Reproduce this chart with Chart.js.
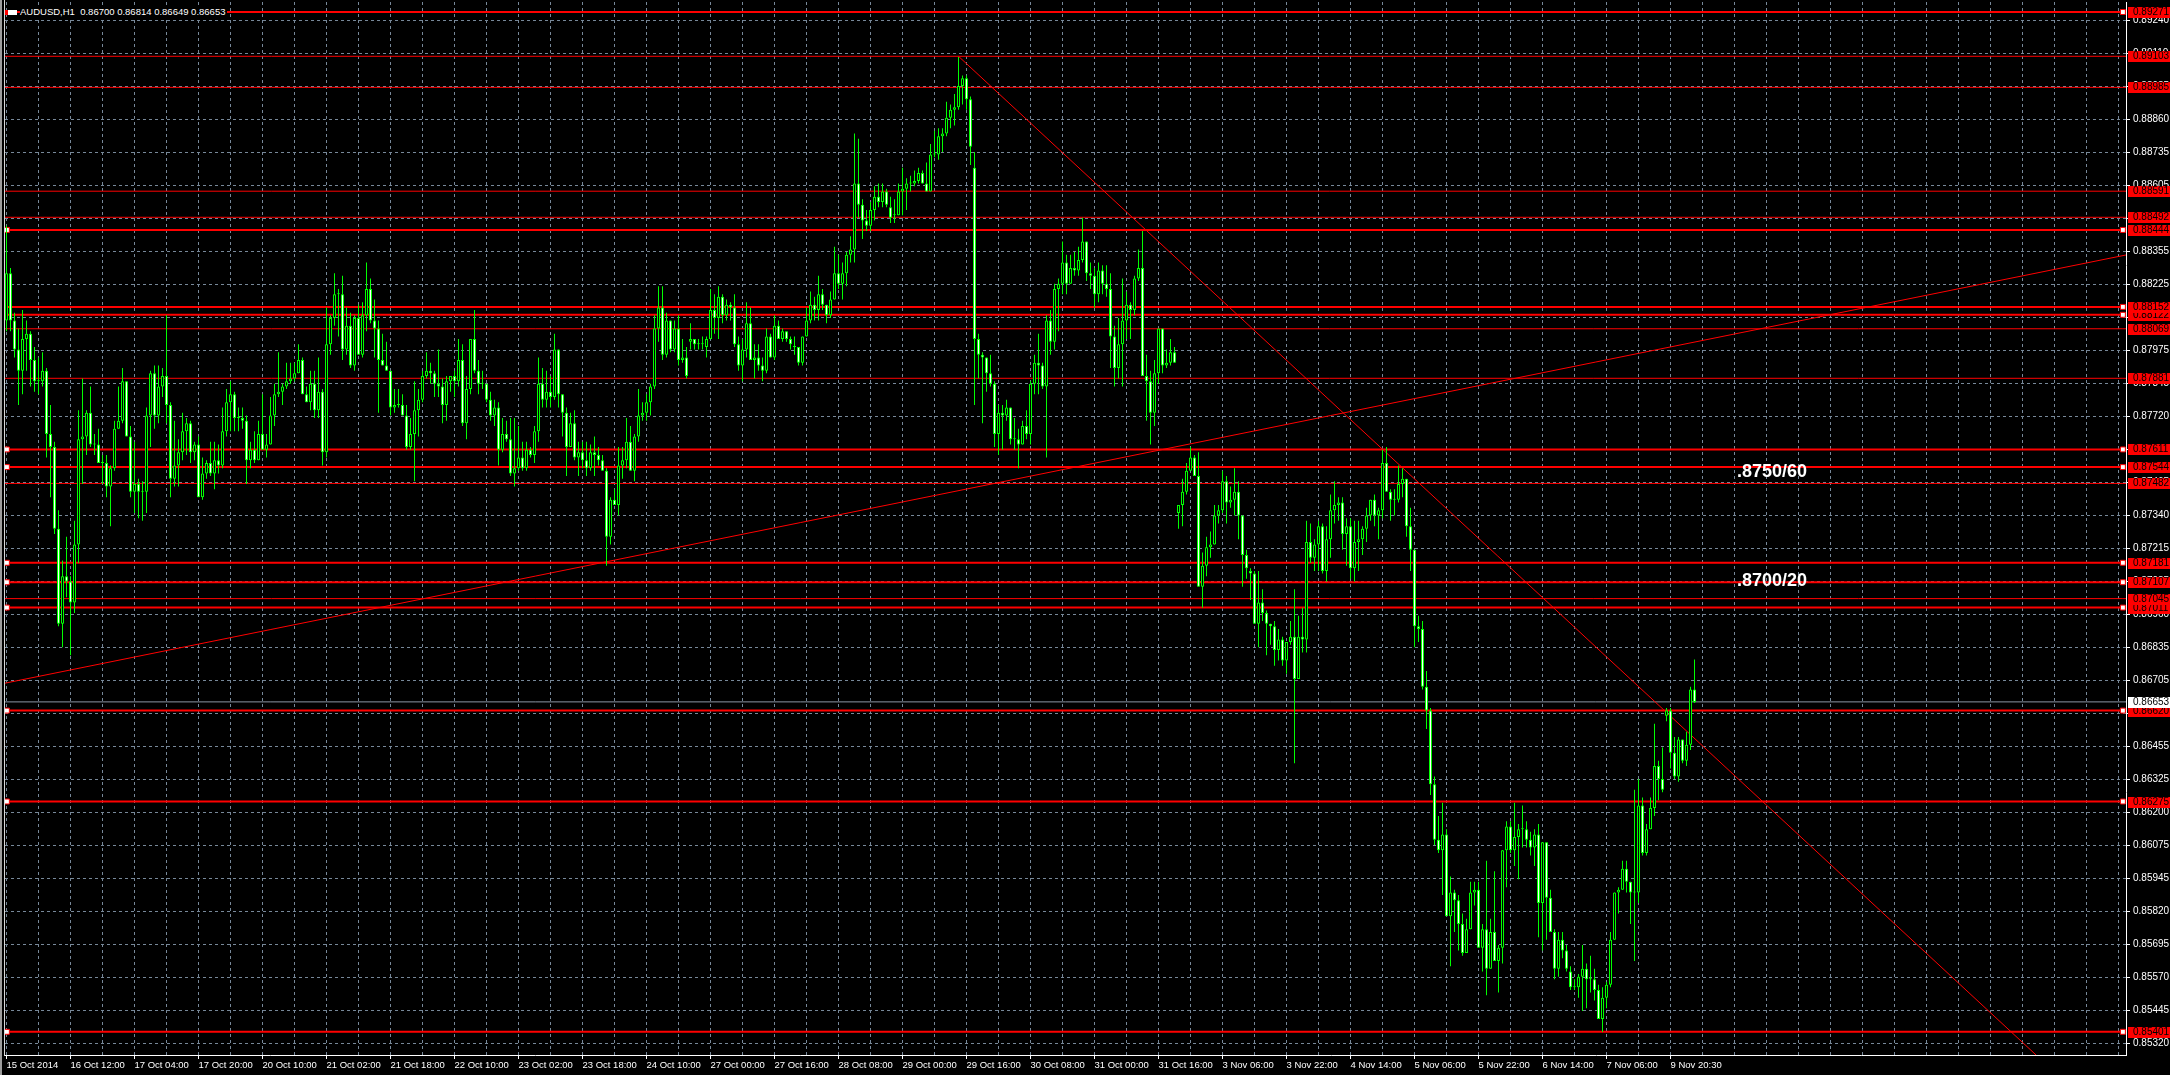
<!DOCTYPE html>
<html>
<head>
<meta charset="utf-8">
<title>AUDUSD,H1</title>
<script src="https://cdn.jsdelivr.net/npm/chart.js@4.4.1/dist/chart.umd.min.js"></script>
<style>
  html, body { margin: 0; padding: 0; background: #000; }
  #wrap { position: relative; width: 2170px; height: 1075px; overflow: hidden; background: #000; }
  #chart { position: absolute; left: 0; top: 0; display: block; }
  .frame-l { position: absolute; left: 0; top: 0; width: 2px; height: 1075px; background: #9c9c9c; }
  .frame-r { position: absolute; left: 4px; top: 0; width: 1px; height: 1056px; background: #d8d8d8; }
  #header { position: absolute; left: 5px; top: 6px; height: 12px; display: flex; align-items: center;
            font: 9.5px "Liberation Sans", Arial, sans-serif; color: #fff; }
  #header .icon { width: 9px; height: 5px; background: #fff; border-left: 3px solid #ff0000; margin-right: 3px; }
  #header .txt { background: #000; padding-right: 2px; white-space: pre; line-height: 12px; }
</style>
</head>
<body>
<div id="wrap">
  <canvas id="chart" width="2170" height="1075"></canvas>
  <div class="frame-l"></div>
  <div class="frame-r"></div>
  <div id="header"><span class="icon"></span><span class="txt" id="headerText"></span></div>
</div>
<script>
// --- DATOS: velas H1 en pips (x 0.0001) ---
const symbolName = 'AUDUSD,H1';

const opens = [
  8810,8828,8810,8799,8791,8803,8805,8795,8787,8787,
  8791,8767,8762,8731,8695,8713,8711,8703,8725,8765,
  8766,8775,8763,8763,8756,8756,8747,8754,8769,8772,
  8787,8766,8745,8748,8745,8745,8774,8790,8774,8785,
  8789,8778,8750,8755,8760,8768,8771,8760,8763,8743,
  8752,8756,8752,8757,8755,8768,8779,8782,8773,8773,
  8772,8757,8761,8757,8767,8761,8763,8774,8782,8783,
  8785,8787,8788,8790,8795,8782,8779,8786,8776,8783,
  8760,8801,8811,8820,8820,8799,8808,8793,8811,8797,
  8812,8822,8810,8807,8795,8793,8791,8777,8778,8778,
  8774,8762,8767,8776,8780,8789,8791,8790,8786,8785,
  8778,8787,8789,8787,8795,8771,8784,8803,8791,8786,
  8786,8780,8774,8777,8761,8767,8765,8752,8754,8758,
  8754,8761,8759,8768,8786,8780,8783,8781,8799,8782,
  8775,8762,8771,8758,8760,8757,8754,8760,8759,8757,
  8753,8728,8742,8740,8755,8757,8764,8753,8766,8774,
  8775,8779,8785,8807,8815,8797,8810,8799,8807,8795,
  8796,8802,8803,8801,8801,8800,8803,8814,8811,8819,
  8812,8816,8815,8801,8793,8799,8809,8795,8796,8793,
  8791,8804,8796,8808,8803,8806,8803,8800,8800,8794,
  8804,8810,8816,8814,8820,8816,8812,8818,8828,8824,
  8828,8835,8837,8862,8854,8848,8846,8852,8857,8855,
  8859,8853,8850,8850,8859,8860,8862,8862,8863,8866,
  8862,8859,8873,8873,8880,8881,8887,8890,8891,8899,
  8902,8894,8868,8803,8797,8796,8790,8786,8767,8775,
  8774,8777,8765,8765,8763,8770,8767,8786,8794,8793,
  8785,8810,8802,8822,8824,8832,8824,8830,8829,8833,
  8840,8828,8827,8820,8829,8824,8822,8804,8792,8801,
  8810,8816,8814,8826,8830,8789,8787,8775,8790,8807,
  8793,8794,8798,8737,8740,8745,8753,8758,8751,8709,
  8717,8724,8725,8736,8738,8749,8741,8742,8745,8736,
  8721,8715,8714,8695,8703,8699,8695,8694,8685,8689,
  8681,8688,8690,8674,8690,8689,8726,8720,8725,8732,
  8715,8727,8738,8740,8741,8729,8732,8716,8726,8727,
  8731,8736,8742,8736,8738,8756,8745,8742,8742,8748,
  8750,8732,8723,8694,8693,8671,8662,8634,8613,8609,
  8615,8584,8593,8590,8581,8570,8579,8593,8594,8572,
  8579,8564,8578,8567,8572,8609,8618,8609,8614,8617,
  8617,8613,8610,8615,8589,8612,8591,8578,8564,8575,
  8571,8563,8557,8557,8561,8564,8560,8560,8556,8545,
  8553,8558,8575,8593,8594,8602,8597,8593,8593,8626,
  8608,8617,8625,8641,8636,8660,8662,8646,8637,8651,
  8643,8649,8670
];

const highs = [
  8846,8830,8813,8807,8814,8810,8806,8800,8796,8798,
  8792,8778,8764,8738,8719,8728,8713,8734,8776,8788,
  8776,8785,8767,8769,8759,8759,8755,8772,8785,8792,
  8787,8770,8764,8750,8749,8777,8791,8793,8793,8792,
  8812,8779,8772,8765,8775,8773,8772,8764,8766,8758,
  8757,8764,8764,8763,8777,8784,8787,8783,8777,8777,
  8774,8764,8768,8772,8782,8767,8781,8786,8798,8786,
  8794,8794,8794,8801,8796,8785,8791,8791,8796,8784,
  8815,8812,8828,8822,8827,8815,8813,8812,8816,8817,
  8832,8826,8818,8810,8805,8802,8791,8784,8784,8782,
  8778,8773,8787,8784,8791,8798,8794,8791,8799,8788,
  8789,8789,8791,8803,8801,8789,8803,8814,8795,8791,
  8786,8783,8780,8779,8773,8772,8773,8773,8770,8764,
  8764,8762,8770,8796,8792,8791,8789,8805,8799,8782,
  8777,8775,8776,8764,8764,8764,8763,8766,8762,8759,
  8754,8743,8746,8762,8762,8773,8770,8767,8784,8779,
  8782,8786,8812,8823,8823,8813,8810,8810,8812,8803,
  8800,8809,8803,8803,8804,8804,8822,8820,8823,8820,
  8818,8817,8820,8804,8803,8817,8815,8801,8801,8796,
  8807,8805,8812,8810,8807,8806,8804,8804,8800,8804,
  8815,8821,8819,8827,8822,8816,8821,8838,8835,8832,
  8836,8842,8881,8879,8856,8852,8855,8861,8862,8862,
  8860,8857,8856,8862,8868,8864,8865,8867,8868,8867,
  8870,8877,8882,8883,8883,8893,8892,8896,8910,8903,
  8903,8895,8874,8805,8798,8796,8797,8787,8778,8778,
  8780,8777,8773,8769,8772,8776,8787,8797,8805,8794,
  8812,8814,8824,8826,8840,8835,8835,8836,8838,8849,
  8840,8832,8830,8832,8831,8831,8828,8808,8811,8826,
  8821,8817,8827,8837,8844,8797,8791,8795,8807,8807,
  8799,8803,8800,8740,8750,8756,8762,8759,8760,8722,
  8728,8730,8740,8740,8753,8751,8747,8754,8749,8736,
  8723,8716,8715,8715,8708,8700,8695,8696,8693,8690,
  8688,8696,8708,8698,8701,8734,8733,8727,8734,8733,
  8732,8744,8749,8743,8743,8735,8735,8734,8734,8732,
  8739,8742,8744,8739,8761,8762,8746,8746,8755,8754,
  8750,8739,8723,8698,8696,8677,8663,8637,8622,8627,
  8617,8599,8594,8592,8585,8583,8597,8597,8597,8581,
  8605,8583,8601,8573,8609,8620,8620,8627,8619,8626,
  8620,8616,8617,8619,8612,8612,8594,8579,8578,8578,
  8573,8565,8560,8562,8573,8566,8569,8564,8558,8557,
  8559,8578,8593,8595,8605,8605,8597,8632,8636,8629,
  8619,8629,8657,8643,8648,8663,8663,8652,8652,8651,
  8654,8671,8681.4
];

const lows = [
  8806,8806,8796,8778,8782,8791,8785,8783,8782,8785,
  8758,8743,8729,8694,8686,8705,8683,8699,8718,8748,
  8759,8762,8759,8756,8748,8743,8732,8753,8769,8771,
  8766,8743,8737,8735,8734,8737,8762,8769,8771,8781,
  8771,8743,8747,8747,8757,8759,8756,8757,8743,8742,
  8750,8751,8746,8752,8754,8766,8768,8768,8768,8769,
  8748,8754,8756,8757,8761,8758,8763,8770,8781,8778,
  8784,8786,8787,8790,8782,8779,8776,8773,8773,8755,
  8758,8797,8808,8804,8795,8797,8792,8791,8797,8796,
  8806,8809,8796,8775,8793,8791,8774,8775,8777,8774,
  8761,8761,8749,8766,8779,8788,8786,8781,8781,8771,
  8772,8783,8781,8785,8770,8765,8782,8790,8782,8784,
  8779,8772,8770,8755,8760,8764,8751,8747,8753,8753,
  8753,8758,8756,8764,8777,8777,8777,8780,8777,8766,
  8751,8762,8757,8751,8754,8751,8753,8751,8755,8753,
  8717,8725,8740,8736,8750,8754,8753,8749,8764,8772,
  8772,8774,8784,8802,8795,8796,8798,8798,8793,8794,
  8788,8799,8799,8799,8799,8796,8803,8805,8803,8809,
  8810,8810,8800,8791,8787,8796,8795,8788,8791,8787,
  8790,8796,8795,8803,8802,8802,8799,8797,8793,8793,
  8804,8809,8810,8810,8814,8809,8811,8818,8822,8818,
  8823,8832,8832,8849,8841,8844,8844,8848,8853,8853,
  8853,8847,8847,8850,8850,8852,8859,8861,8862,8862,
  8859,8859,8872,8871,8874,8880,8883,8884,8890,8892,
  8890,8869,8778,8788,8771,8783,8785,8762,8759,8761,
  8772,8763,8761,8754,8763,8765,8763,8782,8782,8784,
  8758,8797,8799,8806,8820,8820,8824,8827,8827,8832,
  8825,8822,8815,8817,8820,8819,8792,8785,8788,8785,
  8803,8803,8812,8825,8789,8772,8763,8770,8786,8790,
  8792,8793,8794,8731,8732,8744,8753,8751,8709,8701,
  8713,8720,8725,8733,8737,8733,8739,8736,8727,8709,
  8712,8704,8695,8686,8696,8683,8687,8679,8681,8679,
  8676,8687,8642,8674,8684,8684,8718,8715,8715,8714,
  8711,8720,8733,8734,8723,8717,8712,8711,8715,8721,
  8726,8734,8732,8727,8735,8745,8734,8736,8741,8743,
  8728,8715,8686,8688,8670,8655,8630,8611,8608,8592,
  8584,8565,8578,8571,8569,8570,8579,8588,8572,8563,
  8554,8564,8567,8555,8566,8595,8608,8603,8598,8610,
  8610,8607,8603,8576,8571,8575,8578,8560,8561,8568,
  8563,8556,8556,8553,8548,8549,8555,8552,8545,8540,
  8549,8557,8575,8585,8594,8593,8581,8567,8589,8607,
  8607,8617,8622,8628,8631,8658,8640,8636,8635,8642,
  8641,8647,8664.9
];

const closes = [
  8828,8810,8799,8791,8803,8805,8795,8787,8787,8791,
  8767,8762,8731,8695,8713,8711,8703,8725,8765,8766,
  8775,8763,8763,8756,8756,8747,8754,8769,8772,8787,
  8766,8745,8748,8745,8745,8774,8790,8774,8785,8789,
  8778,8750,8755,8760,8768,8771,8760,8763,8743,8752,
  8756,8752,8757,8755,8768,8779,8782,8773,8773,8772,
  8757,8761,8757,8767,8761,8763,8774,8782,8783,8785,
  8787,8788,8790,8795,8782,8779,8786,8776,8783,8760,
  8801,8811,8820,8820,8799,8808,8793,8811,8797,8812,
  8822,8810,8807,8795,8793,8791,8777,8778,8778,8774,
  8762,8767,8776,8780,8789,8791,8790,8786,8785,8778,
  8787,8789,8787,8795,8771,8784,8803,8791,8786,8786,
  8780,8774,8777,8761,8767,8765,8752,8754,8758,8754,
  8761,8759,8768,8786,8780,8783,8781,8799,8782,8775,
  8762,8771,8758,8760,8757,8754,8760,8759,8757,8753,
  8728,8742,8740,8755,8757,8764,8753,8766,8774,8775,
  8779,8785,8807,8815,8797,8810,8799,8807,8795,8796,
  8789,8803,8801,8801,8801,8803,8814,8811,8819,8812,
  8816,8815,8801,8793,8799,8809,8795,8796,8793,8791,
  8804,8796,8808,8803,8806,8803,8801,8800,8794,8804,
  8810,8816,8814,8820,8816,8812,8818,8828,8824,8828,
  8835,8837,8862,8854,8848,8846,8852,8857,8855,8859,
  8854,8849,8850,8859,8860,8862,8862,8863,8866,8862,
  8859,8873,8873,8880,8881,8887,8890,8891,8899,8902,
  8894,8876,8803,8797,8796,8790,8786,8767,8775,8774,
  8777,8765,8765,8763,8770,8767,8786,8794,8793,8785,
  8810,8802,8822,8824,8832,8824,8830,8829,8833,8840,
  8828,8827,8820,8829,8824,8822,8804,8792,8801,8810,
  8816,8814,8826,8830,8789,8787,8775,8790,8807,8793,
  8794,8798,8794,8740,8745,8753,8758,8751,8709,8717,
  8724,8725,8736,8738,8749,8741,8742,8745,8736,8721,
  8716,8714,8695,8703,8699,8695,8694,8685,8689,8681,
  8688,8690,8674,8690,8689,8726,8720,8725,8732,8715,
  8727,8738,8740,8741,8729,8732,8716,8726,8727,8731,
  8736,8742,8736,8738,8756,8745,8742,8742,8748,8750,
  8732,8723,8694,8693,8671,8662,8634,8613,8609,8615,
  8584,8593,8590,8581,8570,8579,8593,8594,8572,8579,
  8564,8578,8567,8572,8609,8618,8609,8614,8617,8617,
  8613,8610,8615,8589,8612,8591,8578,8564,8575,8571,
  8564,8557,8557,8561,8564,8560,8560,8556,8545,8553,
  8558,8575,8593,8594,8602,8597,8593,8593,8626,8608,
  8617,8625,8641,8636,8632,8662,8646,8637,8651,8643,
  8649,8670,8665.3
];

// etiquetas de tiempo (una cada 16 barras)
const timeLabels = [
  '15 Oct 2014', '16 Oct 12:00', '17 Oct 04:00', '17 Oct 20:00', '20 Oct 10:00', '21 Oct 02:00',
  '21 Oct 18:00', '22 Oct 10:00', '23 Oct 02:00', '23 Oct 18:00', '24 Oct 10:00', '27 Oct 00:00',
  '27 Oct 16:00', '28 Oct 08:00', '29 Oct 00:00', '29 Oct 16:00', '30 Oct 08:00', '31 Oct 00:00',
  '31 Oct 16:00', '3 Nov 06:00', '3 Nov 22:00', '4 Nov 14:00', '5 Nov 06:00', '5 Nov 22:00',
  '6 Nov 14:00', '7 Nov 06:00', '9 Nov 20:30'
];

// etiquetas de la escala de precios (derecha), de arriba a abajo
const priceTicks = [
  0.89240, 0.89110, 0.88985, 0.88860, 0.88735, 0.88605, 0.88480, 0.88355, 0.88225, 0.88100,
  0.87975, 0.87845, 0.87720, 0.87595, 0.87465, 0.87340, 0.87215, 0.87085, 0.86960, 0.86835,
  0.86705, 0.86580, 0.86455, 0.86325, 0.86200, 0.86075, 0.85945, 0.85820, 0.85695, 0.85570,
  0.85445, 0.85320
];

// lineas horizontales (soportes / resistencias)
const levelPrices = [
  0.89271, 0.89103, 0.88985, 0.88591, 0.88492, 0.88444, 0.88152, 0.88122, 0.88069, 0.87881,
  0.87611, 0.87544, 0.87482, 0.87181, 0.87107, 0.87045, 0.87011, 0.86620, 0.86275, 0.85401
];
// lineas seleccionadas (con marcadores)
const markedLevels = [0.89271, 0.88444, 0.88152, 0.88122, 0.87611, 0.87544, 0.87181, 0.87107, 0.87011, 0.86620, 0.86275, 0.85401];
const rightOnlyMarks = [0.89271, 0.88152, 0.88122];
const bidPrice = 0.86653;

// lineas de tendencia: [barra, precio]
const trendDown = [[238, 0.89103], [507.4, 0.85313]];
const trendUp = [[-0.375, 0.86724], [529.875, 0.88349]];

// textos
const notes = [
  { text: '.8750/60', bar: 432.6, price: 0.87525 },
  { text: '.8700/20', bar: 432.6, price: 0.87112 }
];

// --- CONFIGURACION ---
const X_MIN = -0.375, X_MAX = 529.875;
const Y_MIN = 0.85313, Y_MAX = 0.89309;
// la rejilla de MT4 va cada 33 px; las etiquetas son las del terminal
const GRID_TOP = 0.89240, GRID_STEP = 0.0012524;
const GREEN = '#00ff00', RED = '#ff0000', GRID = '#778899';
const FONT = '"Liberation Sans", Arial, sans-serif';

const pip = v => v / 10000;
const n = closes.length;
const idx = Array.from({ length: n }, (_, i) => i);

document.getElementById('headerText').textContent =
  symbolName + '  ' + [opens[n - 1], highs[n - 1], lows[n - 1], closes[n - 1]].map(v => pip(v).toFixed(5)).join(' ');

const wickData = idx.map(i => ({ x: i, y: [pip(lows[i]), pip(highs[i])] }));
const bodyData = idx.map(i => ({ x: i, y: [pip(Math.min(opens[i], closes[i])), pip(Math.max(opens[i], closes[i]))] }));
const bodyFill = idx.map(i => closes[i] >= opens[i] ? '#000000' : '#ffffff');

const levelSets = levelPrices.map(p => {
  const marked = markedLevels.includes(p);
  const leftMark = marked && !rightOnlyMarks.includes(p);
  return {
    type: 'line',
    order: 5,
    data: [{ x: X_MIN, y: p }, { x: 0.1, y: p }, { x: 529.1, y: p }, { x: X_MAX, y: p }],
    borderColor: RED,
    borderWidth: marked ? 2 : 1,
    pointStyle: 'rect',
    pointRadius: [0, leftMark ? 3.5 : 0, marked ? 3.5 : 0, 0],
    pointBackgroundColor: '#ffffff',
    pointBorderColor: RED,
    pointBorderWidth: 1,
    fill: false,
    tension: 0
  };
});

const lineSet = (pts, color, order) => ({
  type: 'line',
  order: order,
  data: pts.map(p => ({ x: p[0], y: p[1] })),
  borderColor: color,
  borderWidth: 1,
  pointRadius: 0,
  fill: false,
  tension: 0
});

// textos, etiquetas de precio y anotaciones
const overlayPlugin = {
  id: 'mtOverlay',
  afterDraw(chart) {
    const { ctx, chartArea, scales: { x, y } } = chart;
    const boxLeft = chartArea.right + 2;
    const boxW = chart.width - boxLeft;
    ctx.save();
    ctx.font = '10px ' + FONT;
    ctx.textBaseline = 'middle';
    ctx.textAlign = 'left';
    [...levelPrices].sort((a, b) => a - b).forEach(p => {
      const py = Math.round(y.getPixelForValue(p));
      ctx.fillStyle = RED;
      ctx.fillRect(boxLeft, py - 5, boxW, 11);
      ctx.fillStyle = '#000000';
      ctx.fillText(p.toFixed(5), chartArea.right + 7, py + 0.5);
    });
    const by = Math.round(y.getPixelForValue(bidPrice));
    ctx.fillStyle = '#ffffff';
    ctx.fillRect(boxLeft, by - 5, boxW, 11);
    ctx.fillStyle = '#000000';
    ctx.fillText(bidPrice.toFixed(5), chartArea.right + 7, by + 0.5);

    ctx.font = 'bold 18px ' + FONT;
    ctx.fillStyle = '#ffffff';
    notes.forEach(nt => {
      ctx.fillText(nt.text, x.getPixelForValue(nt.bar), y.getPixelForValue(nt.price));
    });
    ctx.restore();
  }
};

Chart.defaults.font.family = FONT;
Chart.defaults.color = '#ffffff';

const xTickValues = [];
for (let v = 0; v <= 528; v += 8) xTickValues.push(v);

new Chart(document.getElementById('chart').getContext('2d'), {
  type: 'bar',
  data: {
    datasets: [
      {
        label: 'cuerpos',
        order: 0,
        data: bodyData,
        backgroundColor: bodyFill,
        borderColor: GREEN,
        borderWidth: 1,
        borderSkipped: false,
        inflateAmount: 0,
        barThickness: 3,
        minBarLength: 1,
        grouped: false
      },
      {
        label: 'mechas',
        order: 1,
        data: wickData,
        backgroundColor: GREEN,
        borderWidth: 0,
        inflateAmount: 0,
        barThickness: 1,
        minBarLength: 1,
        grouped: false
      },
      lineSet(trendDown, RED, 3),
      lineSet(trendUp, RED, 3),
      {
        type: 'line',
        order: 4,
        data: [{ x: X_MIN, y: bidPrice }, { x: X_MAX, y: bidPrice }],
        borderColor: '#8c96a4',
        borderWidth: 1,
        pointRadius: 0,
        fill: false
      },
      ...levelSets
    ]
  },
  options: {
    responsive: false,
    animation: false,
    devicePixelRatio: 1,
    events: [],
    layout: { padding: { left: 5, top: 2, right: 0, bottom: 0 } },
    plugins: { legend: { display: false }, tooltip: { enabled: false } },
    scales: {
      x: {
        type: 'linear',
        min: X_MIN,
        max: X_MAX,
        offset: false,
        afterBuildTicks: s => { s.ticks = xTickValues.map(v => ({ value: v })); },
        afterFit: s => { s.height = 20; s.paddingLeft = 0; s.paddingRight = 0; },
        grid: {
          offset: false,
          color: GRID,
          lineWidth: 1,
          tickLength: 4,
          tickColor: c => (c.tick && c.tick.label) ? '#ffffff' : 'rgba(0,0,0,0)'
        },
        border: { display: true, color: '#ffffff', width: 1, dash: [3, 3] },
        ticks: {
          autoSkip: false,
          maxRotation: 0,
          minRotation: 0,
          align: 'start',
          padding: 1,
          color: '#ffffff',
          font: { size: 9.5 },
          callback: v => (v % 16 === 0 && timeLabels[v / 16]) ? timeLabels[v / 16] : ''
        }
      },
      y: {
        type: 'linear',
        position: 'right',
        min: Y_MIN,
        max: Y_MAX,
        afterBuildTicks: s => { s.ticks = priceTicks.map((_, k) => ({ value: GRID_TOP - k * GRID_STEP })); },
        afterFit: s => { s.width = 44; s.paddingTop = 0; s.paddingBottom = 0; },
        grid: { color: GRID, lineWidth: 1, tickLength: 4, tickColor: '#ffffff' },
        border: { display: true, color: '#ffffff', width: 1, dash: [3, 3] },
        ticks: {
          autoSkip: false,
          padding: 3,
          color: '#ffffff',
          font: { size: 10 },
          callback: (v, i) => priceTicks[i].toFixed(5)
        }
      }
    }
  },
  plugins: [overlayPlugin]
});
</script>
</body>
</html>
